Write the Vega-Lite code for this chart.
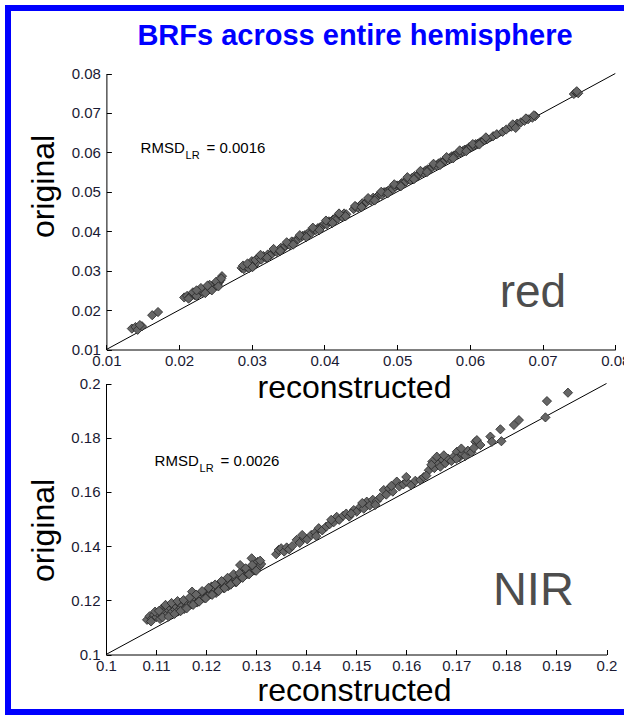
{
  "$schema": "https://vega.github.io/schema/vega-lite/v6.json",
  "width": 620,
  "height": 704,
  "autosize": "none",
  "padding": {"left": 8, "top": 8, "right": -4, "bottom": 4},
  "background": "white",
  "title": {"text": "BRFs across entire hemisphere", "font": "Liberation Sans", "fontSize": 29, "fontWeight": "bold", "color": "#0000ff", "offset": -66, "dx": 37, "anchor": "middle", "baseline": "alphabetic"},
  "config": {
    "view": {"stroke": "#0000ff", "strokeWidth": 6},
    "axis": {"domainColor": "#000000", "tickColor": "#000000", "labelColor": "#1a1a33", "labelFont": "Liberation Sans", "labelFontSize": 15, "titleFont": "Liberation Sans", "titleFontWeight": "normal", "titleColor": "#000000", "grid": false, "tickSize": -5, "domainWidth": 1, "tickWidth": 1, "labelFlush": false, "labelOverlap": false, "format": "~g"}
  },
  "datasets": {
    "red": [
      {"rec":0.0135,"orig":0.0153},{"rec":0.0140,"orig":0.0157},{"rec":0.0143,"orig":0.0150},{"rec":0.0149,"orig":0.0159},{"rec":0.0146,"orig":0.0162},
      {"rec":0.0163,"orig":0.0187},{"rec":0.0171,"orig":0.0195},
      {"rec":0.0207,"orig":0.0232},{"rec":0.0211,"orig":0.0236},{"rec":0.0215,"orig":0.0233},{"rec":0.0218,"orig":0.0240},{"rec":0.0221,"orig":0.0238},{"rec":0.0222,"orig":0.0244},{"rec":0.0225,"orig":0.0241},{"rec":0.0227,"orig":0.0247},{"rec":0.0229,"orig":0.0244},{"rec":0.0231,"orig":0.0250},{"rec":0.0232,"orig":0.0246},{"rec":0.0234,"orig":0.0252},{"rec":0.0235,"orig":0.0248},{"rec":0.0237,"orig":0.0255},{"rec":0.0238,"orig":0.0251},{"rec":0.0240,"orig":0.0257},{"rec":0.0241,"orig":0.0253},{"rec":0.0243,"orig":0.0259},{"rec":0.0244,"orig":0.0255},{"rec":0.0246,"orig":0.0262},{"rec":0.0247,"orig":0.0258},{"rec":0.0249,"orig":0.0265},{"rec":0.0250,"orig":0.0261},{"rec":0.0252,"orig":0.0268},{"rec":0.0253,"orig":0.0264},{"rec":0.0255,"orig":0.0271},{"rec":0.0257,"orig":0.0276},{"rec":0.0259,"orig":0.0286},
      {"rec":0.0213,"orig":0.0229},{"rec":0.0219,"orig":0.0245},{"rec":0.0224,"orig":0.0236},{"rec":0.0230,"orig":0.0256},{"rec":0.0236,"orig":0.0243},{"rec":0.0242,"orig":0.0264},{"rec":0.0245,"orig":0.0250},{"rec":0.0251,"orig":0.0272},{"rec":0.0254,"orig":0.0260},{"rec":0.0258,"orig":0.0280},{"rec":0.0224,"orig":0.0250},{"rec":0.0239,"orig":0.0262},
      {"rec":0.0286,"orig":0.0307},{"rec":0.0289,"orig":0.0304},{"rec":0.0292,"orig":0.0310},{"rec":0.0296,"orig":0.0306},{"rec":0.0298,"orig":0.0316},{"rec":0.0300,"orig":0.0324},{"rec":0.0303,"orig":0.0313},{"rec":0.0306,"orig":0.0320},
      {"rec":0.0288,"orig":0.0313},{"rec":0.0294,"orig":0.0318},{"rec":0.0301,"orig":0.0309},{"rec":0.0305,"orig":0.0327},
      {"rec":0.0310,"orig":0.0334},{"rec":0.0313,"orig":0.0328},{"rec":0.0316,"orig":0.0337},{"rec":0.0319,"orig":0.0333},{"rec":0.0322,"orig":0.0341},{"rec":0.0325,"orig":0.0339},{"rec":0.0328,"orig":0.0343},{"rec":0.0331,"orig":0.0350},{"rec":0.0334,"orig":0.0348},{"rec":0.0337,"orig":0.0352},{"rec":0.0340,"orig":0.0358},{"rec":0.0343,"orig":0.0356},{"rec":0.0346,"orig":0.0363},{"rec":0.0349,"orig":0.0367},{"rec":0.0352,"orig":0.0365},{"rec":0.0355,"orig":0.0374},{"rec":0.0358,"orig":0.0372},{"rec":0.0361,"orig":0.0378},{"rec":0.0364,"orig":0.0380},{"rec":0.0367,"orig":0.0384},{"rec":0.0370,"orig":0.0388},{"rec":0.0373,"orig":0.0390},{"rec":0.0376,"orig":0.0392},{"rec":0.0379,"orig":0.0398},{"rec":0.0382,"orig":0.0396},{"rec":0.0385,"orig":0.0404},{"rec":0.0388,"orig":0.0403},{"rec":0.0391,"orig":0.0408},{"rec":0.0394,"orig":0.0410},{"rec":0.0397,"orig":0.0413},{"rec":0.0400,"orig":0.0419},{"rec":0.0403,"orig":0.0417},{"rec":0.0406,"orig":0.0425},{"rec":0.0409,"orig":0.0424},{"rec":0.0412,"orig":0.0430},{"rec":0.0415,"orig":0.0433},{"rec":0.0418,"orig":0.0432},{"rec":0.0421,"orig":0.0440},{"rec":0.0424,"orig":0.0437},{"rec":0.0427,"orig":0.0445},{"rec":0.0430,"orig":0.0443},
      {"rec":0.0440,"orig":0.0456},{"rec":0.0443,"orig":0.0462},{"rec":0.0446,"orig":0.0460},{"rec":0.0449,"orig":0.0465},{"rec":0.0452,"orig":0.0471},{"rec":0.0455,"orig":0.0469},{"rec":0.0458,"orig":0.0474},{"rec":0.0461,"orig":0.0479},{"rec":0.0464,"orig":0.0478},{"rec":0.0467,"orig":0.0485},{"rec":0.0470,"orig":0.0483},{"rec":0.0473,"orig":0.0489},{"rec":0.0476,"orig":0.0494},{"rec":0.0479,"orig":0.0492},{"rec":0.0482,"orig":0.0499},{"rec":0.0485,"orig":0.0500},{"rec":0.0488,"orig":0.0503},{"rec":0.0491,"orig":0.0508},{"rec":0.0494,"orig":0.0507},{"rec":0.0497,"orig":0.0513},{"rec":0.0500,"orig":0.0516},{"rec":0.0503,"orig":0.0515},{"rec":0.0506,"orig":0.0522},{"rec":0.0509,"orig":0.0524},{"rec":0.0512,"orig":0.0526},{"rec":0.0515,"orig":0.0532},{"rec":0.0518,"orig":0.0530},{"rec":0.0521,"orig":0.0536},{"rec":0.0524,"orig":0.0540},{"rec":0.0527,"orig":0.0539},{"rec":0.0530,"orig":0.0545},{"rec":0.0533,"orig":0.0548},{"rec":0.0536,"orig":0.0549},{"rec":0.0539,"orig":0.0554},{"rec":0.0542,"orig":0.0557},{"rec":0.0545,"orig":0.0558},{"rec":0.0548,"orig":0.0563},{"rec":0.0551,"orig":0.0566},{"rec":0.0554,"orig":0.0567},{"rec":0.0557,"orig":0.0572},{"rec":0.0560,"orig":0.0575},{"rec":0.0563,"orig":0.0576},{"rec":0.0566,"orig":0.0580},{"rec":0.0569,"orig":0.0584},{"rec":0.0572,"orig":0.0585},{"rec":0.0575,"orig":0.0590},{"rec":0.0578,"orig":0.0592},{"rec":0.0581,"orig":0.0594},{"rec":0.0584,"orig":0.0599},{"rec":0.0587,"orig":0.0600},{"rec":0.0590,"orig":0.0603},{"rec":0.0593,"orig":0.0607},{"rec":0.0596,"orig":0.0608},{"rec":0.0599,"orig":0.0613},{"rec":0.0602,"orig":0.0614},{"rec":0.0605,"orig":0.0617},{"rec":0.0608,"orig":0.0621},{"rec":0.0611,"orig":0.0622},{"rec":0.0614,"orig":0.0626},{"rec":0.0617,"orig":0.0628},{"rec":0.0620,"orig":0.0631},{"rec":0.0624,"orig":0.0634},
      {"rec":0.0312,"orig":0.0340},{"rec":0.0321,"orig":0.0333},{"rec":0.0330,"orig":0.0355},{"rec":0.0339,"orig":0.0350},{"rec":0.0348,"orig":0.0372},{"rec":0.0357,"orig":0.0366},{"rec":0.0366,"orig":0.0390},{"rec":0.0375,"orig":0.0385},{"rec":0.0384,"orig":0.0409},{"rec":0.0393,"orig":0.0403},{"rec":0.0402,"orig":0.0427},{"rec":0.0411,"orig":0.0421},{"rec":0.0420,"orig":0.0445},{"rec":0.0429,"orig":0.0438},{"rec":0.0442,"orig":0.0464},{"rec":0.0451,"orig":0.0461},{"rec":0.0460,"orig":0.0484},{"rec":0.0469,"orig":0.0478},{"rec":0.0478,"orig":0.0500},{"rec":0.0487,"orig":0.0496},{"rec":0.0496,"orig":0.0519},{"rec":0.0505,"orig":0.0514},{"rec":0.0514,"orig":0.0537},{"rec":0.0523,"orig":0.0532},{"rec":0.0532,"orig":0.0553},{"rec":0.0541,"orig":0.0550},{"rec":0.0550,"orig":0.0571},{"rec":0.0559,"orig":0.0568},{"rec":0.0568,"orig":0.0588},{"rec":0.0577,"orig":0.0585},{"rec":0.0586,"orig":0.0605},{"rec":0.0595,"orig":0.0603},{"rec":0.0604,"orig":0.0621},{"rec":0.0613,"orig":0.0620},{"rec":0.0622,"orig":0.0638},
      {"rec":0.0632,"orig":0.0641},{"rec":0.0637,"orig":0.0646},{"rec":0.0645,"orig":0.0652},{"rec":0.0650,"orig":0.0658},{"rec":0.0657,"orig":0.0665},{"rec":0.0661,"orig":0.0668},{"rec":0.0665,"orig":0.0673},{"rec":0.0670,"orig":0.0676},{"rec":0.0675,"orig":0.0680},{"rec":0.0680,"orig":0.0684},{"rec":0.0686,"orig":0.0688},{"rec":0.0690,"orig":0.0692},
      {"rec":0.0659,"orig":0.0671},{"rec":0.0677,"orig":0.0686},{"rec":0.0688,"orig":0.0694},{"rec":0.0663,"orig":0.0662},
      {"rec":0.0743,"orig":0.0748},{"rec":0.0746,"orig":0.0752},{"rec":0.0749,"orig":0.0750},{"rec":0.0747,"orig":0.0755}
    ],
    "nir": [
      {"rec":0.1082,"orig":0.1128},{"rec":0.1087,"orig":0.1141},{"rec":0.1092,"orig":0.1133},{"rec":0.1096,"orig":0.1146},{"rec":0.1101,"orig":0.1138},{"rec":0.1104,"orig":0.1152},{"rec":0.1108,"orig":0.1131},{"rec":0.1111,"orig":0.1168},{"rec":0.1114,"orig":0.1145},{"rec":0.1117,"orig":0.1158},{"rec":0.1120,"orig":0.1176},{"rec":0.1123,"orig":0.1150},{"rec":0.1126,"orig":0.1163},{"rec":0.1129,"orig":0.1171},{"rec":0.1132,"orig":0.1157},{"rec":0.1135,"orig":0.1180},{"rec":0.1138,"orig":0.1166},{"rec":0.1141,"orig":0.1175},{"rec":0.1144,"orig":0.1161},{"rec":0.1147,"orig":0.1186},{"rec":0.1150,"orig":0.1172},{"rec":0.1153,"orig":0.1181},{"rec":0.1156,"orig":0.1168},{"rec":0.1159,"orig":0.1192},{"rec":0.1162,"orig":0.1178},{"rec":0.1165,"orig":0.1187},{"rec":0.1168,"orig":0.1200},{"rec":0.1170,"orig":0.1185},{"rec":0.1172,"orig":0.1232},{"rec":0.1176,"orig":0.1196},{"rec":0.1179,"orig":0.1207},{"rec":0.1182,"orig":0.1192},{"rec":0.1185,"orig":0.1218},{"rec":0.1188,"orig":0.1203},{"rec":0.1191,"orig":0.1212},{"rec":0.1194,"orig":0.1225},{"rec":0.1197,"orig":0.1209},{"rec":0.1200,"orig":0.1230},{"rec":0.1203,"orig":0.1216},{"rec":0.1206,"orig":0.1238},{"rec":0.1208,"orig":0.1222},{"rec":0.1211,"orig":0.1251},{"rec":0.1214,"orig":0.1231},{"rec":0.1217,"orig":0.1243},{"rec":0.1220,"orig":0.1227},{"rec":0.1223,"orig":0.1255},{"rec":0.1226,"orig":0.1240},{"rec":0.1229,"orig":0.1248},{"rec":0.1232,"orig":0.1262},{"rec":0.1235,"orig":0.1245},{"rec":0.1238,"orig":0.1256},{"rec":0.1241,"orig":0.1268},{"rec":0.1244,"orig":0.1252},{"rec":0.1247,"orig":0.1274},{"rec":0.1250,"orig":0.1260},{"rec":0.1253,"orig":0.1271},{"rec":0.1256,"orig":0.1283},{"rec":0.1259,"orig":0.1266},{"rec":0.1262,"orig":0.1278},{"rec":0.1265,"orig":0.1291},{"rec":0.1268,"orig":0.1330},{"rec":0.1271,"orig":0.1288},{"rec":0.1274,"orig":0.1302},{"rec":0.1277,"orig":0.1294},{"rec":0.1280,"orig":0.1307},{"rec":0.1284,"orig":0.1298},{"rec":0.1288,"orig":0.1315},{"rec":0.1291,"orig":0.1355},{"rec":0.1294,"orig":0.1322},{"rec":0.1298,"orig":0.1310},{"rec":0.1303,"orig":0.1342},{"rec":0.1306,"orig":0.1325},{"rec":0.1310,"orig":0.1334},
      {"rec":0.1090,"orig":0.1122},{"rec":0.1098,"orig":0.1158},{"rec":0.1106,"orig":0.1161},{"rec":0.1113,"orig":0.1137},{"rec":0.1119,"orig":0.1183},{"rec":0.1125,"orig":0.1140},{"rec":0.1131,"orig":0.1190},{"rec":0.1137,"orig":0.1150},{"rec":0.1143,"orig":0.1197},{"rec":0.1149,"orig":0.1160},{"rec":0.1155,"orig":0.1201},{"rec":0.1161,"orig":0.1170},{"rec":0.1167,"orig":0.1210},{"rec":0.1174,"orig":0.1183},{"rec":0.1180,"orig":0.1221},{"rec":0.1186,"orig":0.1195},{"rec":0.1192,"orig":0.1234},{"rec":0.1199,"orig":0.1207},{"rec":0.1205,"orig":0.1246},{"rec":0.1212,"orig":0.1220},{"rec":0.1218,"orig":0.1258},{"rec":0.1225,"orig":0.1234},{"rec":0.1231,"orig":0.1271},{"rec":0.1237,"orig":0.1245},{"rec":0.1243,"orig":0.1283},{"rec":0.1249,"orig":0.1258},{"rec":0.1255,"orig":0.1296},{"rec":0.1261,"orig":0.1268},{"rec":0.1267,"orig":0.1300},{"rec":0.1273,"orig":0.1283},{"rec":0.1279,"orig":0.1318},{"rec":0.1286,"orig":0.1296},{"rec":0.1292,"orig":0.1330},{"rec":0.1300,"orig":0.1309},{"rec":0.1308,"orig":0.1346},
      {"rec":0.1340,"orig":0.1370},{"rec":0.1345,"orig":0.1386},{"rec":0.1350,"orig":0.1392},{"rec":0.1356,"orig":0.1380},{"rec":0.1361,"orig":0.1395},{"rec":0.1366,"orig":0.1388},{"rec":0.1372,"orig":0.1400},
      {"rec":0.1381,"orig":0.1423},{"rec":0.1387,"orig":0.1412},{"rec":0.1395,"orig":0.1430},{"rec":0.1402,"orig":0.1425},{"rec":0.1410,"orig":0.1441},{"rec":0.1418,"orig":0.1450},{"rec":0.1425,"orig":0.1466},{"rec":0.1432,"orig":0.1458},{"rec":0.1440,"orig":0.1472},{"rec":0.1447,"orig":0.1481},{"rec":0.1455,"orig":0.1488},{"rec":0.1461,"orig":0.1508},{"rec":0.1466,"orig":0.1497},{"rec":0.1474,"orig":0.1512},{"rec":0.1480,"orig":0.1520},{"rec":0.1486,"orig":0.1509},{"rec":0.1495,"orig":0.1533},{"rec":0.1501,"orig":0.1527},{"rec":0.1508,"orig":0.1545},{"rec":0.1515,"orig":0.1538},{"rec":0.1521,"orig":0.1564},{"rec":0.1527,"orig":0.1550},{"rec":0.1533,"orig":0.1571},{"rec":0.1541,"orig":0.1566},{"rec":0.1548,"orig":0.1580},{"rec":0.1555,"orig":0.1607},{"rec":0.1560,"orig":0.1590},{"rec":0.1566,"orig":0.1613},{"rec":0.1573,"orig":0.1601},{"rec":0.1581,"orig":0.1638},{"rec":0.1586,"orig":0.1620},{"rec":0.1594,"orig":0.1628},{"rec":0.1601,"orig":0.1637},{"rec":0.1610,"orig":0.1625},{"rec":0.1618,"orig":0.1641},{"rec":0.1628,"orig":0.1644},{"rec":0.1635,"orig":0.1655},{"rec":0.1645,"orig":0.1680},{"rec":0.1652,"orig":0.1712},{"rec":0.1656,"orig":0.1688},{"rec":0.1661,"orig":0.1730},{"rec":0.1664,"orig":0.1702},{"rec":0.1668,"orig":0.1693},{"rec":0.1673,"orig":0.1718},{"rec":0.1678,"orig":0.1706},{"rec":0.1684,"orig":0.1722},{"rec":0.1690,"orig":0.1714},{"rec":0.1695,"orig":0.1731},{"rec":0.1701,"orig":0.1748},{"rec":0.1706,"orig":0.1727},{"rec":0.1712,"orig":0.1740},{"rec":0.1718,"orig":0.1733},{"rec":0.1723,"orig":0.1752},{"rec":0.1730,"orig":0.1746},{"rec":0.1738,"orig":0.1785},{"rec":0.1741,"orig":0.1791},{"rec":0.1748,"orig":0.1773},{"rec":0.1768,"orig":0.1804},{"rec":0.1771,"orig":0.1785},{"rec":0.1788,"orig":0.1831},{"rec":0.1790,"orig":0.1787},{"rec":0.1815,"orig":0.1847},{"rec":0.1825,"orig":0.1865},{"rec":0.1878,"orig":0.1875},{"rec":0.1881,"orig":0.1935},{"rec":0.1923,"orig":0.1966},
      {"rec":0.1392,"orig":0.1441},{"rec":0.1420,"orig":0.1437},{"rec":0.1450,"orig":0.1497},{"rec":0.1490,"orig":0.1520},{"rec":0.1512,"orig":0.1559},{"rec":0.1538,"orig":0.1552},{"rec":0.1570,"orig":0.1622},{"rec":0.1600,"orig":0.1655},{"rec":0.1640,"orig":0.1660},{"rec":0.1650,"orig":0.1700},{"rec":0.1675,"orig":0.1735},{"rec":0.1700,"orig":0.1722},{"rec":0.1710,"orig":0.1760},{"rec":0.1735,"orig":0.1762}
    ]
  },
  "layer": [
    {
      "encoding": {
        "x": {"field": "rec", "type": "quantitative",
          "scale": {"domain": [0.01, 0.08], "range": [98.4, 607.3], "nice": false, "zero": false},
          "axis": {"orient": "bottom", "offset": -362.5, "values": [0.01, 0.02, 0.03, 0.04, 0.05, 0.06, 0.07, 0.08], "labelPadding": 9, "title": "reconstructed", "titleFontSize": 32, "titleX": 346, "titleY": 47.5, "titleBaseline": "alphabetic", "titleAlign": "center", "titleAngle": 0}},
        "y": {"field": "orig", "type": "quantitative",
          "scale": {"domain": [0.01, 0.08], "range": [341.5, 65.5], "nice": false, "zero": false},
          "axis": {"orient": "left", "offset": -98.4, "values": [0.01, 0.02, 0.03, 0.04, 0.05, 0.06, 0.07, 0.08], "labelPadding": 11, "title": "original", "titleFontSize": 32, "titleX": -63, "titleY": 178, "titleBaseline": "middle", "titleAlign": "center", "titleAngle": -90}}
      },
      "layer": [
        {"data": {"values": [{"rec": 0.01, "orig": 0.01}, {"rec": 0.08, "orig": 0.08}]}, "mark": {"type": "line", "color": "#000000", "strokeWidth": 1}, "encoding": {}},
        {"data": {"name": "red"}, "mark": {"type": "point", "shape": "diamond", "filled": true, "size": 85, "color": "#666666", "stroke": "#262626", "strokeWidth": 0.8, "opacity": 1}},
        {"data": {"values": [{"rec": 0.0641, "orig": 0.0208, "label": "red"}]}, "mark": {"type": "text", "font": "Liberation Sans", "fontSize": 46, "color": "#4d4d4d", "align": "left", "baseline": "alphabetic"},
          "encoding": {"text": {"field": "label"}}},
        {"data": {"values": [{"rec": 0.0147, "orig": 0.0598, "label": "RMSD"}]}, "mark": {"type": "text", "font": "Liberation Sans", "fontSize": 15, "color": "#000000", "align": "left", "baseline": "alphabetic"},
          "encoding": {"text": {"field": "label"}}},
        {"data": {"values": [{"rec": 0.0147, "orig": 0.0598, "label": "LR"}]}, "mark": {"type": "text", "font": "Liberation Sans", "fontSize": 11, "color": "#000000", "align": "left", "baseline": "alphabetic", "dx": 45, "dy": 6},
          "encoding": {"text": {"field": "label"}}},
        {"data": {"values": [{"rec": 0.0147, "orig": 0.0598, "label": "= 0.0016"}]}, "mark": {"type": "text", "font": "Liberation Sans", "fontSize": 15, "color": "#000000", "align": "left", "baseline": "alphabetic", "dx": 66},
          "encoding": {"text": {"field": "label"}}}
      ]
    },
    {
      "encoding": {
        "x": {"field": "rec", "type": "quantitative",
          "scale": {"domain": [0.1, 0.2], "range": [98, 598.5], "nice": false, "zero": false},
          "axis": {"orient": "bottom", "offset": -57.5, "values": [0.1, 0.11, 0.12, 0.13, 0.14, 0.15, 0.16, 0.17, 0.18, 0.19, 0.2], "labelPadding": 9, "title": "reconstructed", "titleFontSize": 32, "titleX": 346, "titleY": 46, "titleBaseline": "alphabetic", "titleAlign": "center", "titleAngle": 0}},
        "y": {"field": "orig", "type": "quantitative",
          "scale": {"domain": [0.1, 0.2], "range": [646.5, 375.5], "nice": false, "zero": false},
          "axis": {"orient": "left", "offset": -98, "values": [0.1, 0.12, 0.14, 0.16, 0.18, 0.2], "labelPadding": 11, "title": "original", "titleFontSize": 32, "titleX": -63, "titleY": 522, "titleBaseline": "middle", "titleAlign": "center", "titleAngle": -90}}
      },
      "layer": [
        {"data": {"values": [{"rec": 0.1, "orig": 0.1}, {"rec": 0.2, "orig": 0.2}]}, "mark": {"type": "line", "color": "#000000", "strokeWidth": 1}, "encoding": {}},
        {"data": {"name": "nir"}, "mark": {"type": "point", "shape": "diamond", "filled": true, "size": 85, "color": "#666666", "stroke": "#262626", "strokeWidth": 0.8, "opacity": 1}},
        {"data": {"values": [{"rec": 0.1773, "orig": 0.1183, "label": "NIR"}]}, "mark": {"type": "text", "font": "Liberation Sans", "fontSize": 47, "color": "#4d4d4d", "align": "left", "baseline": "alphabetic"},
          "encoding": {"text": {"field": "label"}}},
        {"data": {"values": [{"rec": 0.1097, "orig": 0.1697, "label": "RMSD"}]}, "mark": {"type": "text", "font": "Liberation Sans", "fontSize": 15, "color": "#000000", "align": "left", "baseline": "alphabetic"},
          "encoding": {"text": {"field": "label"}}},
        {"data": {"values": [{"rec": 0.1097, "orig": 0.1697, "label": "LR"}]}, "mark": {"type": "text", "font": "Liberation Sans", "fontSize": 11, "color": "#000000", "align": "left", "baseline": "alphabetic", "dx": 45, "dy": 6},
          "encoding": {"text": {"field": "label"}}},
        {"data": {"values": [{"rec": 0.1097, "orig": 0.1697, "label": "= 0.0026"}]}, "mark": {"type": "text", "font": "Liberation Sans", "fontSize": 15, "color": "#000000", "align": "left", "baseline": "alphabetic", "dx": 66},
          "encoding": {"text": {"field": "label"}}}
      ]
    }
  ],
  "resolve": {"scale": {"x": "independent", "y": "independent"}, "axis": {"x": "independent", "y": "independent"}}
}
